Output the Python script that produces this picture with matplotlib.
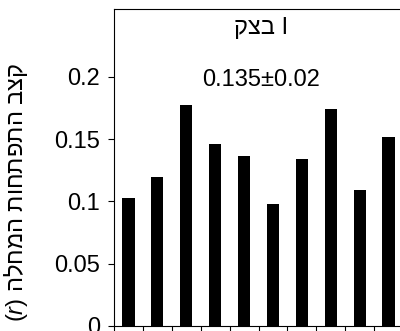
import matplotlib
matplotlib.use("Agg")
import matplotlib.pyplot as plt
import numpy as np

# bar heights
rates = [0.1025, 0.1196, 0.1771, 0.1458, 0.1367, 0.0982, 0.134, 0.1739, 0.1091, 0.1514]
yticks = [0, 0.05, 0.1, 0.15, 0.2]
ytick_labels = ["0", "0.05", "0.1", "0.15", "0.2"]
# text is laid out left to right, glyph by glyph, as in the source picture
title_text = "קצב I"
mean_text = "0.135±0.02"
ylabel_text = "($\\it{r}$) הלחמה תוחתפתה בצק"

plt.rcParams["font.family"] = ["Liberation Sans", "DejaVu Sans"]
plt.rcParams["mathtext.fontset"] = "custom"
plt.rcParams["mathtext.it"] = "Liberation Sans:italic"
plt.rcParams["mathtext.rm"] = "Liberation Sans"

fig = plt.figure(figsize=(4.0, 3.31), dpi=100)
ax = fig.add_axes([114 / 400, 5 / 331, 289 / 400, 317 / 331])

x = np.arange(len(rates)) + 0.5
ax.bar(x, rates, width=0.42, color="black")

ax.set_xlim(0, len(rates))
ax.set_ylim(0, 0.2545)
ax.set_xticks(np.arange(len(rates) + 1))
ax.set_xticklabels([])
ax.set_yticks(yticks)
ax.set_yticklabels(ytick_labels, fontsize=17)
ax.tick_params(direction="out", length=4, width=0.8, pad=6, colors="black")
for s in ax.spines.values():
    s.set_linewidth(0.8)

ax.set_ylabel(ylabel_text, fontsize=17)
ax.yaxis.set_label_coords(-0.29, 0.42)

ax.text(0.509, 0.94, title_text, transform=ax.transAxes, ha="center", va="center", fontsize=17)
ax.text(0.509, 0.776, mean_text, transform=ax.transAxes, ha="center", va="center", fontsize=17)

fig.savefig("out.png", dpi=100)
